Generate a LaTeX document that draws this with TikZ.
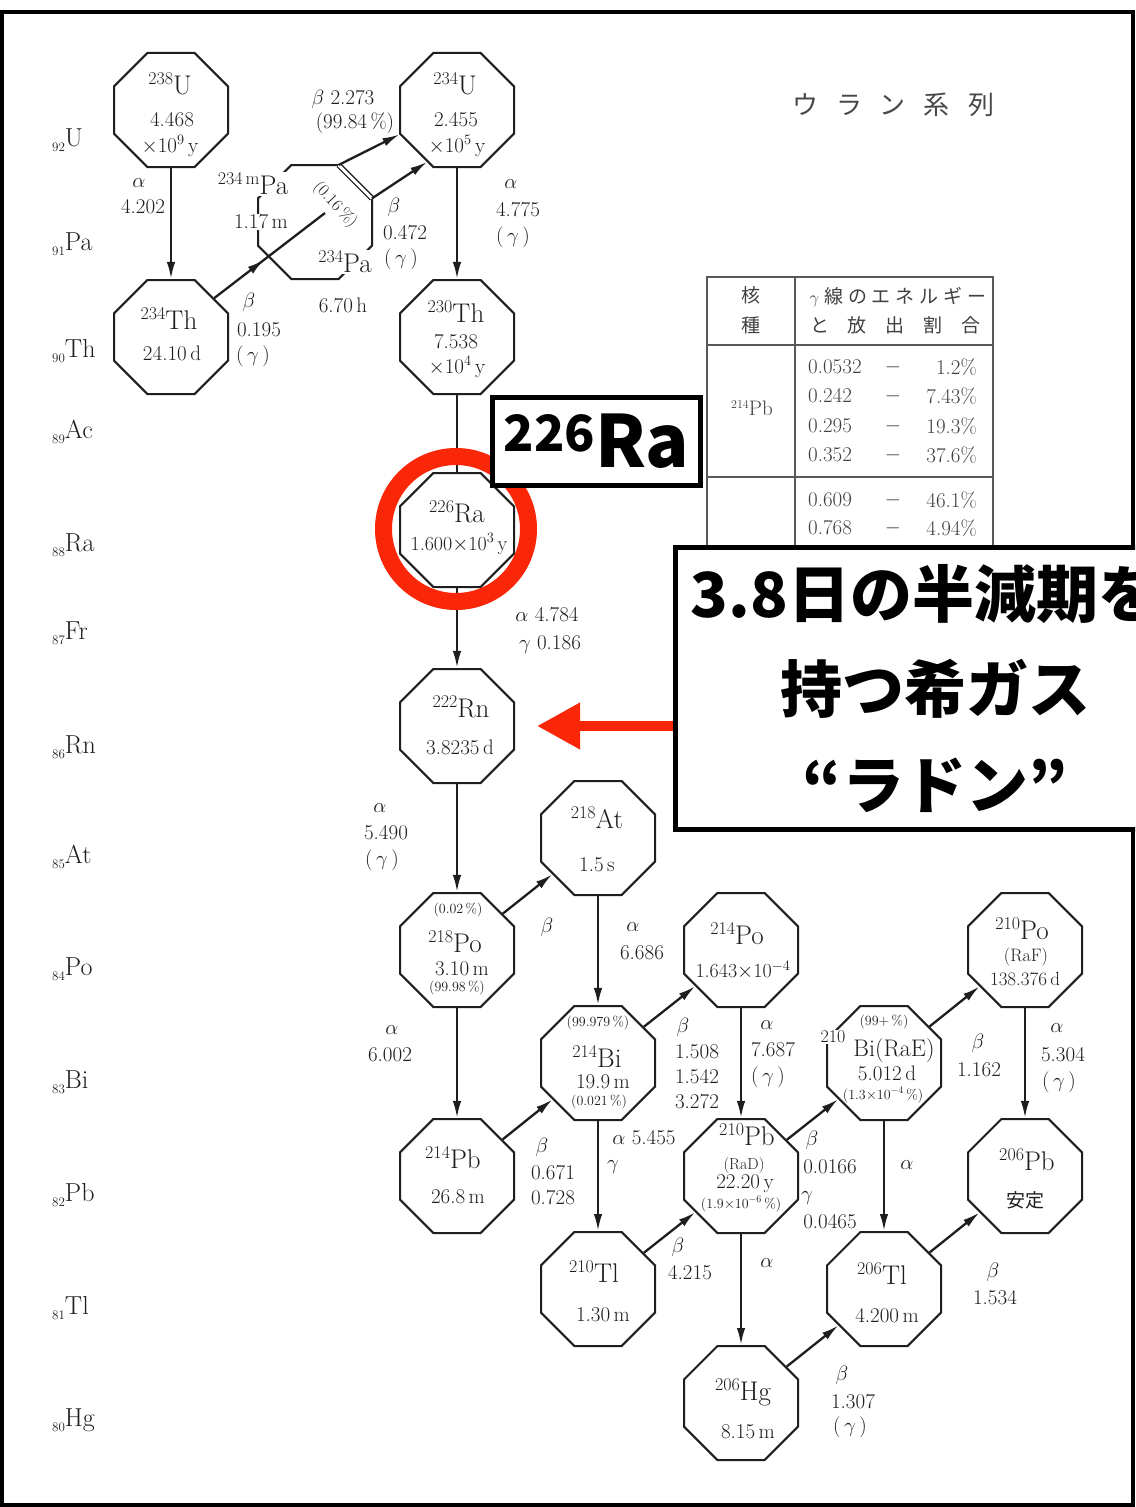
\documentclass[tikz,border=0pt]{standalone}
\usepackage{fontspec}
\newfontfamily\cjk{Noto Sans CJK JP}
\usetikzlibrary{shapes.geometric,arrows.meta,decorations.markings,calc}
\definecolor{calred}{RGB}{250,38,8}
\definecolor{ink}{RGB}{30,30,30}
\newcounter{tn}
\newcommand\Lbl[4][]{\stepcounter{tn}\node[lbl,#1] (t\arabic{tn}) at (#2,#3) {#4};}
\newcommand\fnum{\fontsize{21}{21}\selectfont}
\newcommand\fsym{\fontsize{27}{27}\selectfont}
\newcommand\fsml{\fontsize{14}{14}\selectfont}
\newcommand\fel{\fontsize{26}{26}\selectfont}
\newcommand\nuc[2]{{\fontsize{18}{18}\selectfont\raisebox{10pt}{#1}}#2}
\newcommand\el[2]{{\fontsize{13}{13}\selectfont\raisebox{-5pt}{#1}}#2}
\tikzset{
  oct/.style={draw=ink, line width=2pt, regular polygon, regular polygon sides=8,
              minimum size=123.4pt, inner sep=0pt, fill=white},
  lbl/.style={inner sep=0pt, text=ink, font=\fnum},
  sym/.style={font=\fsym},
  sml/.style={font=\fsml},
  decay/.style={draw=ink, line width=2.3pt, -{Latex[length=17pt,width=8.5pt]}},
  plainline/.style={draw=ink, line width=2.3pt},
  midarrow/.style={draw=ink, line width=2.3pt, postaction={decorate},
     decoration={markings, mark=at position 0.45 with {\arrow{Latex[length=17pt,width=8.5pt]}}}},
  dbl/.style={draw=ink, line width=1.4pt, double=white, double distance=3pt},
  tline/.style={draw=black!65, line width=1.6pt},
  tjp/.style={font=\cjk\fontsize{19}{19}\selectfont, text=black!75},
  callbox/.style={draw=black, line width=5pt, fill=white, inner sep=0pt, font=\cjk\bfseries},
}
\begin{document}
\begin{tikzpicture}[x=1pt,y=-1pt]
\clip (0,0) rectangle (1135,1507);
\fill[white] (0,0) rectangle (1135,1507);
\draw[line width=4pt] (1.8,12) rectangle (1133,1504.5);

% title
\Lbl[font=\cjk\fontsize{26}{26}\selectfont, text=black!72]{893}{105}{ウ\hspace{18pt}ラ\hspace{18pt}ン\hspace{18pt}系\hspace{18pt}列}

% element row labels
\foreach \z/\s/\yy in {92/U/140, 91/Pa/244, 90/Th/351, 89/Ac/432, 88/Ra/545, 87/Fr/633,
  86/Rn/747, 85/At/857, 84/Po/969, 83/Bi/1082, 82/Pb/1195, 81/Tl/1308, 80/Hg/1420}
  {\Lbl[anchor=west,font=\fel]{52}{\yy}{\el{\z}{\s}}}

% octagons
\node[oct] (u238) at (171,110) {};
\node[oct] (u234) at (457,110) {};
\node[oct] (pa) at (315,222) {};
\node[oct] (th234) at (171,337) {};
\node[oct] (th230) at (457,337) {};
\node[oct] (ra) at (457,530) {};
\node[oct] (rn) at (457,726) {};
\node[oct] (at) at (598,838) {};
\node[oct] (po218) at (457,950) {};
\node[oct] (po214) at (741,950) {};
\node[oct] (po210) at (1025,950) {};
\node[oct] (bi214) at (598,1063) {};
\node[oct] (bi210) at (884,1063) {};
\node[oct] (pb214) at (457,1176) {};
\node[oct] (pb210) at (741,1176) {};
\node[oct] (pb206) at (1025,1176) {};
\node[oct] (tl210) at (598,1289) {};
\node[oct] (tl206) at (884,1289) {};
\node[oct] (hg) at (741,1403) {};

% Pa branch geometry
\coordinate (patr) at ($(pa.center)+(23.6,-57)$);
\coordinate (part) at ($(pa.center)+(57,-23.6)$);
\coordinate (pain) at ($(pa.center)+(10,-9)$);
\draw[dbl] (patr) -- (part);

% connectors
\draw[decay] (u238) -- (th234);
\draw[decay] (u234) -- (th230);
\draw[midarrow] (th234.42) -- (pain);
\draw[decay] (patr) -- (u234.203);
\draw[decay] (part) -- (u234.240);
\draw[plainline] (th230) -- (ra);
\draw[decay] (ra) -- (rn);
\draw[decay] (rn) -- (po218);
\draw[decay] (po218) -- (at);
\draw[decay] (at) -- (bi214);
\draw[decay] (po218) -- (pb214);
\draw[decay] (pb214) -- (bi214);
\draw[decay] (bi214) -- (po214);
\draw[decay] (bi214) -- (tl210);
\draw[decay] (po214) -- (pb210);
\draw[decay] (tl210) -- (pb210);
\draw[decay] (pb210) -- (bi210);
\draw[decay] (pb210) -- (hg);
\draw[decay] (bi210) -- (po210);
\draw[decay] (bi210) -- (tl206);
\draw[decay] (po210) -- (pb206);
\draw[decay] (hg) -- (tl206);
\draw[decay] (tl206) -- (pb206);

% node texts
\Lbl[sym]{170}{84}{\nuc{238}{U}}
\Lbl{172}{120}{4.468}
\Lbl{170}{146}{$\times$10$^9$\,y}
\Lbl[sym]{455}{84}{\nuc{234}{U}}
\Lbl{456}{120}{2.455}
\Lbl{457}{146}{$\times$10$^5$\,y}
\Lbl[sym,fill=white,inner sep=1pt]{253}{184}{\nuc{234\,m}{Pa}}
\Lbl[fill=white,inner sep=1pt]{261}{222}{1.17\,m}
\Lbl[sym,fill=white,inner sep=1pt]{345}{262}{\nuc{234}{Pa}}
\Lbl{343}{305}{6.70\,h}
\Lbl[rotate=-47,font=\fontsize{17}{17}\selectfont]{335}{205}{(0.16\,\%)}
\Lbl[sym]{169}{318}{\nuc{234}{Th}}
\Lbl{172}{353}{24.10\,d}
\Lbl[sym]{456}{312}{\nuc{230}{Th}}
\Lbl{456}{342}{7.538}
\Lbl{457}{367}{$\times$10$^4$\,y}
\Lbl[sym]{457}{512}{\nuc{226}{Ra}}
\Lbl[font=\fontsize{20}{20}\selectfont]{459}{544}{1.600$\times$10$^3$\,y}
\Lbl[sym]{461}{707}{\nuc{222}{Rn}}
\Lbl{460}{747}{3.8235\,d}
\Lbl[sym]{597}{818}{\nuc{218}{At}}
\Lbl{597}{865}{1.5\,s}
\Lbl[sml]{458}{910}{(0.02\,\%)}
\Lbl[sym]{455}{942}{\nuc{218}{Po}}
\Lbl{462}{969}{3.10\,m}
\Lbl[sml]{457}{988}{(99.98\,\%)}
\Lbl[sml]{598}{1023}{(99.979\,\%)}
\Lbl[sym]{597}{1056}{\nuc{214}{Bi}}
\Lbl{603}{1082}{19.9\,m}
\Lbl[sml]{599}{1102}{(0.021\,\%)}
\Lbl[sym]{453}{1158}{\nuc{214}{Pb}}
\Lbl{458}{1197}{26.8\,m}
\Lbl[sym]{737}{934}{\nuc{214}{Po}}
\Lbl[font=\fontsize{20}{20}\selectfont]{743}{970}{1.643$\times$10$^{-4}$}
\Lbl[sym]{747}{1135}{\nuc{210}{Pb}}
\Lbl[font=\fontsize{16}{16}\selectfont]{744}{1165}{(RaD)}
\Lbl{745}{1184}{22.20\,y}
\Lbl[sml]{741}{1204}{(1.9$\times$10$^{-6}$\,\%)}
\Lbl[sml]{884}{1022}{(99+\,\%)}
\Lbl[font=\fontsize{18}{18}\selectfont,fill=white,inner sep=1pt]{833}{1037}{210}
\Lbl[font=\fontsize{24}{24}\selectfont]{894}{1050}{Bi(RaE)}
\Lbl{887}{1073}{5.012\,d}
\Lbl[sml]{883}{1095}{(1.3$\times$10$^{-4}$\,\%)}
\Lbl[sym]{1022}{929}{\nuc{210}{Po}}
\Lbl[font=\fontsize{18}{18}\selectfont]{1026}{957}{(RaF)}
\Lbl[font=\fontsize{19}{19}\selectfont]{1025}{979}{138.376\,d}
\Lbl[sym]{1027}{1160}{\nuc{206}{Pb}}
\Lbl[font=\cjk\fontsize{19}{19}\selectfont]{1025}{1200}{安定}
\Lbl[sym]{594}{1272}{\nuc{210}{Tl}}
\Lbl{603}{1315}{1.30\,m}
\Lbl[sym]{743}{1392}{\nuc{206}{Hg}}
\Lbl{748}{1432}{8.15\,m}
\Lbl[sym]{882}{1274}{\nuc{206}{Tl}}
\Lbl{887}{1316}{4.200\,m}

% transition labels
\Lbl{139}{183}{$\alpha$}
\Lbl{143}{207}{4.202}
\Lbl{343}{99}{$\beta$~2.273}
\Lbl{355}{123}{(99.84\,\%)}
\Lbl{394}{207}{$\beta$}
\Lbl{405}{233}{0.472}
\Lbl{401}{259}{(\,$\gamma$\,)}
\Lbl{511}{184}{$\alpha$}
\Lbl{518}{210}{4.775}
\Lbl{513}{237}{(\,$\gamma$\,)}
\Lbl{249}{302}{$\beta$}
\Lbl{259}{330}{0.195}
\Lbl{253}{356}{(\,$\gamma$\,)}
\Lbl{547}{615}{$\alpha$~4.784}
\Lbl{550}{645}{$\gamma$~0.186}
\Lbl{380}{808}{$\alpha$}
\Lbl{386}{833}{5.490}
\Lbl{382}{860}{(\,$\gamma$\,)}
\Lbl{547}{927}{$\beta$}
\Lbl{633}{927}{$\alpha$}
\Lbl{642}{953}{6.686}
\Lbl{392}{1030}{$\alpha$}
\Lbl{390}{1055}{6.002}
\Lbl{683}{1027}{$\beta$}
\Lbl{697}{1052}{1.508}
\Lbl{697}{1077}{1.542}
\Lbl{697}{1102}{3.272}
\Lbl{767}{1025}{$\alpha$}
\Lbl{773}{1050}{7.687}
\Lbl{768}{1077}{(\,$\gamma$\,)}
\Lbl{542}{1147}{$\beta$}
\Lbl{553}{1173}{0.671}
\Lbl{553}{1198}{0.728}
\Lbl{644}{1138}{$\alpha$~5.455}
\Lbl{613}{1167}{$\gamma$}
\Lbl{978}{1043}{$\beta$}
\Lbl{979}{1070}{1.162}
\Lbl{1057}{1028}{$\alpha$}
\Lbl{1063}{1055}{5.304}
\Lbl{1059}{1082}{(\,$\gamma$\,)}
\Lbl{812}{1140}{$\beta$}
\Lbl{830}{1167}{0.0166}
\Lbl{807}{1198}{$\gamma$}
\Lbl{830}{1222}{0.0465}
\Lbl{907}{1165}{$\alpha$}
\Lbl{678}{1247}{$\beta$}
\Lbl{690}{1273}{4.215}
\Lbl{767}{1263}{$\alpha$}
\Lbl{993}{1272}{$\beta$}
\Lbl{995}{1298}{1.534}
\Lbl{842}{1375}{$\beta$}
\Lbl{853}{1402}{1.307}
\Lbl{850}{1427}{(\,$\gamma$\,)}

% gamma table
\draw[tline] (707,560) -- (707,277) -- (993,277) -- (993,560);
\draw[tline] (795,277) -- (795,560);
\draw[tline] (707,345) -- (993,345);
\draw[tline] (707,477) -- (993,477);
\Lbl[tjp]{751}{295}{核}
\Lbl[tjp]{751}{325}{種}
\Lbl[tjp]{898}{297}{\makebox[177pt][s]{$\gamma$\hfill 線\hfill の\hfill エ\hfill ネ\hfill ル\hfill ギ\hfill ー}}
\Lbl[tjp]{895}{325}{\makebox[170pt][s]{と\hfill 放\hfill 出\hfill 割\hfill 合}}
\Lbl[text=black!75]{752}{408}{{\fontsize{12}{12}\selectfont\raisebox{7pt}{214}}Pb}
\foreach \yy/\ee/\pp in {367/0.0532/1.2, 396/0.242/7.43, 426/0.295/19.3, 455/0.352/37.6, 500/0.609/46.1, 528/0.768/4.94}{
  \Lbl[anchor=west,text=black!75]{808}{\yy}{\ee}
  \Lbl[text=black!75]{893}{\yy}{$-$}
  \Lbl[anchor=east,text=black!75]{977}{\yy}{\pp\%}
}

% highlight ring and callouts
\node[circle, draw=calred, line width=17pt, minimum size=145pt, inner sep=0pt] (ring) at (456,529) {};
\node[callbox, minimum width=208pt, minimum height=88pt] (rabox) at (596.5,441.5)
  {{\fontsize{50}{50}\selectfont\raisebox{16pt}{226}}{\fontsize{72}{72}\selectfont Ra}};
\node[callbox, minimum width=519pt, minimum height=282pt, align=center,
      font=\cjk\bfseries\fontsize{62}{95.5}\selectfont] (radon) at (935,688.5)
  {\hspace*{-19pt}3.8日の半減期を\\持つ希ガス\\“ラドン”};
\draw[draw=calred, line width=10pt, -{Triangle[length=43pt,width=44pt]}, shorten >=22pt]
  (radon.west |- rn) -- (rn.east);
\end{tikzpicture}
\end{document}
